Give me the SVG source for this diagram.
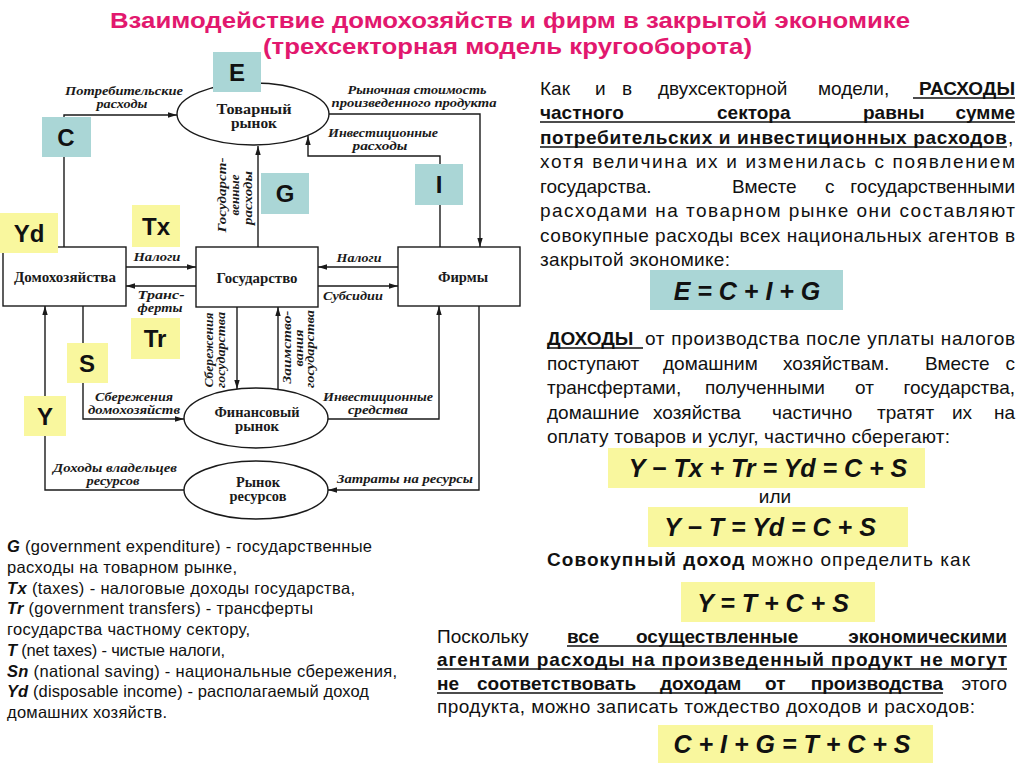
<svg xmlns="http://www.w3.org/2000/svg" width="1024" height="767" viewBox="0 0 1024 767">
<defs>
<marker id="ah" viewBox="0 0 10 6" refX="10" refY="3" markerWidth="9" markerHeight="6" markerUnits="userSpaceOnUse" orient="auto"><path d="M0,0 L10,3 L0,6 z" fill="#1a1a1a"/></marker>
<style>
.ttl{font-family:"Liberation Sans",Arial,sans-serif;font-weight:bold;font-size:22px;fill:#E2186E}
.ln{fill:none;stroke:#1a1a1a;stroke-width:1.4}
.arr{marker-end:url(#ah)}
.box{fill:#fff;stroke:#1a1a1a;stroke-width:1.4}
.nt{font-family:"Liberation Serif","Times New Roman",serif;font-weight:bold;font-size:14px;fill:#1a1a1a;text-anchor:middle}
.lb{font-family:"Liberation Serif","Times New Roman",serif;font-weight:bold;font-style:italic;font-size:12px;fill:#1a1a1a;text-anchor:middle}
.cy{fill:#AAD6D6}
.yl{fill:#F9F79E}
.let{font-family:"Liberation Sans",Arial,sans-serif;font-weight:bold;font-size:24px;fill:#111;text-anchor:middle}
.bt{font-family:"Liberation Sans",Arial,sans-serif;font-size:19px;fill:#111}
.b{font-weight:bold}
.e{text-anchor:end}
.ul{stroke:#111;stroke-width:1.6}
.fm{font-family:"Liberation Sans",Arial,sans-serif;font-weight:bold;font-style:italic;font-size:25px;fill:#111;text-anchor:middle}
.lg{font-family:"Liberation Sans",Arial,sans-serif;font-size:16.5px;fill:#111}
.bi{font-weight:bold;font-style:italic}
</style>
</defs>
<rect width="1024" height="767" fill="#fff"/>

<g id="title">
<text class="ttl" x="110" y="28" textLength="800" lengthAdjust="spacingAndGlyphs">Взаимодействие домохозяйств и фирм в закрытой экономике</text>
<text class="ttl" x="263" y="54" textLength="489" lengthAdjust="spacingAndGlyphs">(трехсекторная модель кругооборота)</text>
</g>

<g id="connectors">
<path class="ln arr" d="M64,247 V115 H177"/>
<path class="ln arr" d="M328,114 H480 V247"/>
<path class="ln arr" d="M440,247 V156 H308 V136"/>
<path class="ln arr" d="M258,247 V146"/>
<path class="ln arr" d="M126,267 H196"/>
<path class="ln arr" d="M196,286 H126"/>
<path class="ln arr" d="M398,267 H318"/>
<path class="ln arr" d="M318,286 H398"/>
<path class="ln arr" d="M237,307 V389"/>
<path class="ln arr" d="M278,390 V307"/>
<path class="ln arr" d="M83,306 V419 H184"/>
<path class="ln arr" d="M328,419 H439 V306"/>
<path class="ln arr" d="M479,306 V490 H328"/>
<path class="ln arr" d="M184,490 H45 V306"/>
</g>

<g id="connector-labels">
<text class="lb" x="124" y="95" textLength="118" lengthAdjust="spacingAndGlyphs">Потребительские</text>
<text class="lb" x="122" y="108" textLength="51" lengthAdjust="spacingAndGlyphs">расходы</text>
<text class="lb" x="417" y="94" textLength="139" lengthAdjust="spacingAndGlyphs">Рыночная стоимость</text>
<text class="lb" x="414" y="107" textLength="165" lengthAdjust="spacingAndGlyphs">произведенного продукта</text>
<text class="lb" x="383" y="137" textLength="110" lengthAdjust="spacingAndGlyphs">Инвестиционные</text>
<text class="lb" x="380" y="150" textLength="55" lengthAdjust="spacingAndGlyphs">расходы</text>
<text class="lb" transform="translate(226,195) rotate(-90)" textLength="75" lengthAdjust="spacingAndGlyphs">Государст-</text>
<text class="lb" transform="translate(239,195) rotate(-90)" textLength="41" lengthAdjust="spacingAndGlyphs">венные</text>
<text class="lb" transform="translate(252,198) rotate(-90)" textLength="54" lengthAdjust="spacingAndGlyphs">расходы</text>
<text class="lb" x="157" y="261" textLength="47" lengthAdjust="spacingAndGlyphs">Налоги</text>
<text class="lb" x="161" y="299" textLength="47" lengthAdjust="spacingAndGlyphs">Транс-</text>
<text class="lb" x="160" y="312" textLength="45" lengthAdjust="spacingAndGlyphs">ферты</text>
<text class="lb" x="359" y="262" textLength="45" lengthAdjust="spacingAndGlyphs">Налоги</text>
<text class="lb" x="353" y="300" textLength="60" lengthAdjust="spacingAndGlyphs">Субсидии</text>
<text class="lb" transform="translate(213,350) rotate(-90)" textLength="75" lengthAdjust="spacingAndGlyphs">Сбережения</text>
<text class="lb" transform="translate(225,350) rotate(-90)" textLength="76" lengthAdjust="spacingAndGlyphs">государства</text>
<text class="lb" transform="translate(291,347) rotate(-90)" textLength="73" lengthAdjust="spacingAndGlyphs">Заимство-</text>
<text class="lb" transform="translate(302.5,348) rotate(-90)" textLength="37" lengthAdjust="spacingAndGlyphs">вания</text>
<text class="lb" transform="translate(314,349) rotate(-90)" textLength="78" lengthAdjust="spacingAndGlyphs">государства</text>
<text class="lb" x="134" y="401" textLength="78" lengthAdjust="spacingAndGlyphs">Сбережения</text>
<text class="lb" x="134" y="414" textLength="92" lengthAdjust="spacingAndGlyphs">домохозяйств</text>
<text class="lb" x="378" y="401" textLength="110" lengthAdjust="spacingAndGlyphs">Инвестиционные</text>
<text class="lb" x="378" y="414" textLength="60" lengthAdjust="spacingAndGlyphs">средства</text>
<text class="lb" x="115" y="472" textLength="124" lengthAdjust="spacingAndGlyphs">Доходы владельцев</text>
<text class="lb" x="113" y="485" textLength="53" lengthAdjust="spacingAndGlyphs">ресурсов</text>
<text class="lb" x="405" y="483" textLength="136" lengthAdjust="spacingAndGlyphs">Затраты на ресурсы</text>
</g>

<g id="node-tovarny-rynok">
<ellipse class="box" cx="253" cy="114" rx="76" ry="31"/>
<text class="nt" x="254" y="114" textLength="75" lengthAdjust="spacingAndGlyphs">Товарный</text>
<text class="nt" x="254" y="128" textLength="46" lengthAdjust="spacingAndGlyphs">рынок</text>
</g>
<g id="node-domohozyaystva">
<rect class="box" x="3" y="247" width="123" height="59"/>
<text class="nt" x="65" y="282" textLength="102" lengthAdjust="spacingAndGlyphs">Домохозяйства</text>
</g>
<g id="node-gosudarstvo">
<rect class="box" x="196" y="247" width="122" height="60"/>
<text class="nt" x="257" y="283" textLength="81" lengthAdjust="spacingAndGlyphs">Государство</text>
</g>
<g id="node-firmy">
<rect class="box" x="398" y="247" width="122" height="59"/>
<text class="nt" x="463" y="282" textLength="50" lengthAdjust="spacingAndGlyphs">Фирмы</text>
</g>
<g id="node-finansovy-rynok">
<ellipse class="box" cx="256" cy="418" rx="72" ry="30"/>
<text class="nt" x="257" y="417" textLength="85" lengthAdjust="spacingAndGlyphs">Финансовый</text>
<text class="nt" x="257" y="431" textLength="44" lengthAdjust="spacingAndGlyphs">рынок</text>
</g>
<g id="node-rynok-resursov">
<ellipse class="box" cx="256" cy="490" rx="72" ry="29"/>
<text class="nt" x="258" y="487" textLength="44" lengthAdjust="spacingAndGlyphs">Рынок</text>
<text class="nt" x="258" y="501" textLength="57" lengthAdjust="spacingAndGlyphs">ресурсов</text>
</g>

<g id="tags">
<rect class="cy" x="213" y="52" width="48" height="40"/><text class="let" x="237" y="81">E</text>
<rect class="cy" x="42" y="117" width="49" height="40"/><text class="let" x="66" y="146">C</text>
<rect class="yl" x="0" y="213" width="58" height="40"/><text class="let" x="29" y="242">Yd</text>
<rect class="yl" x="132" y="205" width="48" height="42"/><text class="let" x="156" y="235">Tx</text>
<rect class="cy" x="261" y="173" width="48" height="41"/><text class="let" x="285" y="202">G</text>
<rect class="cy" x="415" y="164" width="48" height="41"/><text class="let" x="439" y="193">I</text>
<rect class="yl" x="131" y="318" width="49" height="41"/><text class="let" x="155" y="347">Tr</text>
<rect class="yl" x="67" y="343" width="41" height="40"/><text class="let" x="87" y="372">S</text>
<rect class="yl" x="24" y="396" width="42" height="40"/><text class="let" x="45" y="425">Y</text>
</g>

<g id="legend" class="lg">
<text x="7" y="552" textLength="365" lengthAdjust="spacing"><tspan class="bi">G</tspan> (government expenditure) - государственные</text>
<text x="7" y="573" textLength="230" lengthAdjust="spacing">расходы на товарном рынке,</text>
<text x="7" y="593.5" textLength="348" lengthAdjust="spacing"><tspan class="bi">Tx</tspan> (taxes) - налоговые доходы государства,</text>
<text x="7" y="614" textLength="306" lengthAdjust="spacing"><tspan class="bi">Tr</tspan> (government transfers) - трансферты</text>
<text x="7" y="635" textLength="243" lengthAdjust="spacing">государства частному сектору,</text>
<text x="7" y="656" textLength="218" lengthAdjust="spacing"><tspan class="bi">T</tspan> (net taxes) - чистые налоги,</text>
<text x="7" y="676.5" textLength="390" lengthAdjust="spacing"><tspan class="bi">Sn</tspan> (national saving) - национальные сбережения,</text>
<text x="7" y="697" textLength="362" lengthAdjust="spacing"><tspan class="bi">Yd</tspan> (disposable income) - располагаемый доход</text>
<text x="7" y="718" textLength="160" lengthAdjust="spacing">домашних хозяйств.</text>
</g>

<g id="text-expenditure" class="bt">
<text y="95"><tspan x="540">Как</tspan><tspan x="595">и</tspan><tspan x="622">в</tspan><tspan x="658">двухсекторной</tspan><tspan x="818">модели,</tspan></text>
<text class="b e" x="1015" y="95">РАСХОДЫ</text>
<line class="ul" x1="913" y1="98" x2="1015" y2="98"/>
<text class="b" y="119"><tspan x="540">частного</tspan><tspan x="717">сектора</tspan><tspan x="863">равны</tspan></text>
<text class="b e" x="1015" y="119">сумме</text>
<line class="ul" x1="540" y1="122" x2="1015" y2="122"/>
<text class="b" x="540" y="144" textLength="467" lengthAdjust="spacing">потребительских и инвестиционных расходов</text>
<text x="1008" y="144">,</text>
<line class="ul" x1="540" y1="147" x2="1007" y2="147"/>
<text x="540" y="168" textLength="475" lengthAdjust="spacing">хотя величина их и изменилась с появлением</text>
<text y="193"><tspan x="540">государства.</tspan><tspan x="732">Вместе</tspan><tspan x="825">с</tspan></text>
<text class="e" x="1015" y="193">государственными</text>
<text x="540" y="217" textLength="475" lengthAdjust="spacing">расходами на товарном рынке они составляют</text>
<text x="540" y="242" textLength="475" lengthAdjust="spacing">совокупные расходы всех национальных агентов в</text>
<text x="540" y="266" textLength="190" lengthAdjust="spacing">закрытой экономике:</text>
</g>
<g id="formula-e">
<rect class="cy" x="650" y="270" width="193" height="40"/>
<text class="fm" x="747" y="300">E = C + I + G</text>
</g>

<g id="text-income" class="bt">
<text class="b" x="547" y="345">ДОХОДЫ</text>
<line class="ul" x1="547" y1="348" x2="643" y2="348"/>
<text x="645" y="345" textLength="370" lengthAdjust="spacing">от производства после уплаты налогов</text>
<text y="369.5"><tspan x="547">поступают</tspan><tspan x="663">домашним</tspan><tspan x="783">хозяйствам.</tspan><tspan x="925">Вместе</tspan></text>
<text class="e" x="1015" y="369.5">с</text>
<text y="394"><tspan x="547">трансфертами,</tspan><tspan x="705">полученными</tspan><tspan x="855">от</tspan></text>
<text class="e" x="1015" y="394">государства,</text>
<text y="418.5"><tspan x="547">домашние</tspan><tspan x="653">хозяйства</tspan><tspan x="772">частично</tspan><tspan x="877">тратят</tspan><tspan x="952">их</tspan></text>
<text class="e" x="1015" y="418.5">на</text>
<text x="547" y="442.5" textLength="403" lengthAdjust="spacing">оплату товаров и услуг, частично сберегают:</text>
</g>
<g id="formula-yd">
<rect class="yl" x="608" y="448" width="317" height="40"/>
<text class="fm" x="768" y="477">Y − Tx + Tr = Yd = C + S</text>
<text class="bt" x="775" y="503" text-anchor="middle">или</text>
<rect class="yl" x="648" y="507" width="260" height="40"/>
<text class="fm" x="770" y="536">Y − T = Yd = C + S</text>
</g>
<g id="text-total" class="bt">
<text x="547" y="566" textLength="423" lengthAdjust="spacing"><tspan class="b">Совокупный доход</tspan> можно определить как</text>
</g>
<g id="formula-y">
<rect class="yl" x="681" y="582" width="194" height="40"/>
<text class="fm" x="773" y="612">Y = T + C + S</text>
</g>
<g id="text-identity" class="bt">
<text x="437" y="643">Поскольку</text>
<text class="b" y="643"><tspan x="567">все</tspan><tspan x="636">осуществленные</tspan></text>
<text class="b e" x="1007" y="643">экономическими</text>
<line class="ul" x1="567" y1="646" x2="1007" y2="646"/>
<text class="b" x="437" y="666" textLength="570" lengthAdjust="spacing">агентами расходы на произведенный продукт не могут</text>
<line class="ul" x1="437" y1="669" x2="1007" y2="669"/>
<text class="b" y="690"><tspan x="437">не</tspan><tspan x="477">соответствовать</tspan><tspan x="660">доходам</tspan><tspan x="765">от</tspan></text>
<text class="b e" x="943" y="690">производства</text>
<line class="ul" x1="437" y1="693" x2="943" y2="693"/>
<text class="e" x="1007" y="690">этого</text>
<text x="437" y="713" textLength="538" lengthAdjust="spacing">продукта, можно записать тождество доходов и расходов:</text>
</g>
<g id="formula-identity">
<rect class="yl" x="658" y="725" width="275" height="38"/>
<text class="fm" x="792" y="753">C + I + G = T + C + S</text>
</g>
</svg>
